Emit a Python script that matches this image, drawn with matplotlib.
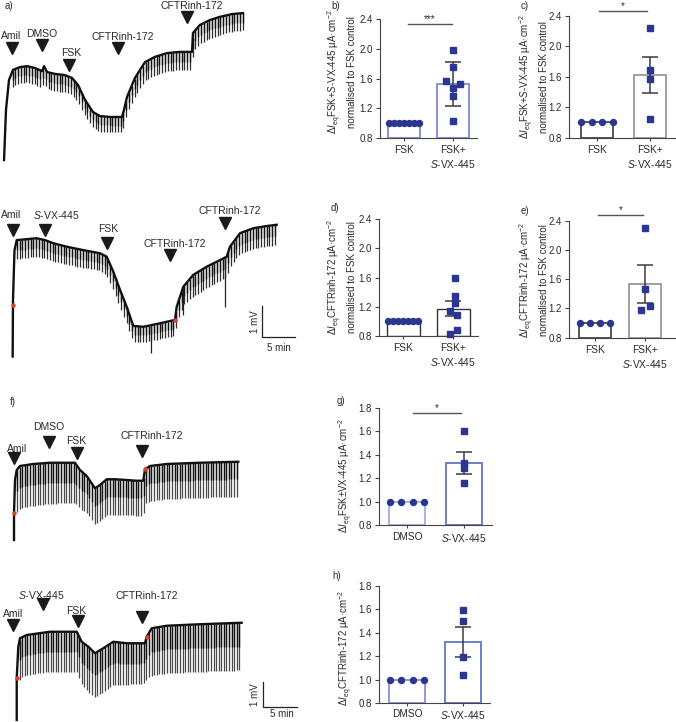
import numpy as np
import matplotlib
matplotlib.use("Agg")
import matplotlib.pyplot as plt

plt.rcParams['font.family'] = ['Liberation Sans', 'DejaVu Sans']
plt.rcParams['mathtext.fontset'] = 'custom'
plt.rcParams['mathtext.rm'] = 'Liberation Sans'
plt.rcParams['mathtext.it'] = 'Liberation Sans:italic'
plt.rcParams['mathtext.bf'] = 'Liberation Sans:bold'

# ---------------- data: traces (time in min, voltage in mV) ----------------
trA_t = [0.61, 0.91, 1.36, 1.97, 3.03, 4.09, 5.30, 6.36, 6.67, 7.12, 8.33, 9.85, 10.91, 11.82, 12.88,
         14.09, 15.15, 16.67, 18.48, 18.79, 19.24, 20.45, 21.97, 23.48, 25.30, 27.27, 29.09, 29.24,
         30.30, 31.82, 33.33, 35.15, 36.82]
trA_v = [0.32, 1.94, 2.90, 3.23, 3.32, 3.35, 3.29, 3.19, 3.35, 3.16, 3.10, 3.06, 2.97, 2.74, 2.26,
         1.87, 1.74, 1.71, 1.71, 1.94, 2.35, 2.97, 3.48, 3.65, 3.77, 3.81, 3.81, 4.42,
         4.68, 4.84, 4.94, 5.03, 5.06]
trA_dt = [1.9, 8, 11, 14, 18.5, 20.5, 26, 29.1, 29.3, 36.8]
trA_dv = [0.5, 0.55, 0.55, 0.5, 0.5, 0.6, 0.58, 0.58, 0.62, 0.55]

trB_t = [1.94, 1.99, 2.22, 2.56, 4.09, 5.62, 6.89, 8.16, 10.21, 12.76, 15.31, 16.34, 17.35, 18.38,
         19.40, 20.41, 21.94, 24.00, 25.53, 26.80, 27.06, 28.07, 29.60, 31.65, 33.69, 34.72, 35.22,
         36.75, 38.79, 40.84, 42.37]
trB_v = [0.27, 2.08, 3.67, 3.99, 4.02, 4.05, 3.99, 3.89, 3.78, 3.67, 3.57, 3.46, 2.98, 2.40,
         1.86, 1.25, 1.22, 1.31, 1.38, 1.44, 1.86, 2.50, 2.88, 3.14, 3.35, 3.46, 3.78,
         4.21, 4.37, 4.44, 4.48]
trB_dt = [2.6, 15, 17, 20.4, 26.8, 30, 35, 42.4]
trB_dv = [0.6, 0.55, 0.6, 0.5, 0.5, 0.7, 0.65, 0.65]
trB_spike_t = [23.2, 28.0, 34.5]
trB_spike_v = [0.38, 1.6, 1.86]
trB_dots_t = [1.94, 26.8]
trB_dots_v = [1.92, 1.44]

trF_t = [2.06, 2.06, 2.21, 2.46, 2.94, 4.90, 7.35, 9.81, 11.03, 11.76, 12.75, 13.97, 14.71, 15.69,
         16.91, 18.63, 20.10, 21.07, 21.32, 22.06, 24.51, 29.41, 35.04]
trF_v = [0.2, 1.29, 2.6, 3.0, 3.16, 3.24, 3.29, 3.29, 3.29, 3.0, 2.76, 2.27, 2.40, 2.63,
         2.63, 2.60, 2.57, 2.57, 3.03, 3.16, 3.24, 3.29, 3.33]
trF_dt = [2.5, 11, 13, 18.7, 21.3, 35]
trF_dv = [1.7, 1.6, 1.45, 1.4, 1.4, 1.4]
trF_dots_t = [2.06, 21.32]
trF_dots_v = [1.29, 3.03]

trH_t = [2.46, 2.46, 2.69, 2.94, 3.93, 7.35, 11.28, 12.01, 12.99, 13.97, 15.19, 16.66, 18.63,
         21.32, 21.57, 22.31, 24.51, 29.41, 35.54]
trH_v = [0.4, 2.07, 3.33, 3.67, 3.80, 3.93, 3.93, 3.53, 3.33, 3.07, 3.27, 3.53, 3.47,
         3.47, 3.73, 4.07, 4.17, 4.23, 4.29]
trH_dt = [2.9, 11.3, 13, 21.3, 22.3, 35.5]
trH_dv = [1.6, 1.6, 1.8, 1.6, 1.9, 1.9]
trH_dots_t = [2.46, 21.57]
trH_dots_v = [2.07, 3.71]

# event markers: (label, arrow t, arrow v, text t, text v)
evA = [("Amil", 1.82, 3.94, 1.67, 4.32), ("DMSO", 6.36, 4.03, 6.36, 4.39),
       ("FSK", 10.45, 3.39, 10.76, 3.77), ("CFTRinh-172", 17.88, 3.94, 18.64, 4.29),
       ("CFTRinh-172", 28.33, 4.94, 29.09, 5.29)]
evB = [("Amil", 1.94, 4.31, 1.68, 4.80), ("$\\mathit{S}$-VX-445", 6.89, 4.31, 8.58, 4.79),
       ("FSK", 16.34, 3.91, 16.54, 4.35), ("CFTRinh-172", 26.03, 3.51, 26.80, 3.87),
       ("CFTRinh-172", 34.46, 4.53, 35.22, 4.93)]
evF = [("Amil", 2.06, 3.47, 2.57, 3.84), ("DMSO", 7.21, 4.13, 7.21, 4.72),
       ("FSK", 11.28, 3.69, 11.18, 4.16), ("CFTRinh-172", 20.84, 3.76, 22.35, 4.36)]
evH = [("Amil", 1.87, 4.2, 1.91, 4.64), ("$\\mathit{S}$-VX-445", 6.37, 5.03, 6.03, 5.40),
       ("FSK", 11.43, 4.37, 11.18, 4.76), ("CFTRinh-172", 20.93, 4.53, 21.62, 5.36)]

# ---------------- data: bar panels ----------------
b_ctrl = [1.0] * 7
b_trt = [1.99, 1.76, 1.57, 1.53, 1.47, 1.36, 1.03]
b_jit = [0, 0, -0.15, 0.15, 0, 0, 0]
b_mean = [1.0, 1.53]
b_err = 0.30

c_ctrl = [1.0] * 4
c_trt = [2.24, 1.69, 1.57, 1.05]
c_jit = [0, 0, 0, 0]
c_mean = [1.0, 1.62]
c_err = 0.24

d_ctrl = [1.0] * 7
d_trt = [1.60, 1.35, 1.25, 1.14, 1.09, 0.88, 0.83]
d_jit = [0.04, 0.04, 0.04, -0.06, 0.08, 0.08, -0.06]
d_mean = [1.0, 1.17]
d_err = 0.105

e_ctrl = [1.0] * 4
e_trt = [2.30, 1.47, 1.23, 1.18]
e_jit = [0.0, 0.0, 0.09, -0.09]
e_mean = [1.0, 1.53]
e_err = 0.26

g_ctrl = [1.0] * 4
g_trt = [1.60, 1.33, 1.29, 1.16]
g_jit = [0, 0, 0, 0]
g_mean = [1.0, 1.33]
g_err = 0.095

h_ctrl = [1.0] * 4
h_trt = [1.59, 1.50, 1.19, 1.04]
h_jit = [0, 0, 0, 0]
h_mean = [1.0, 1.32]
h_err = 0.13

cats_fsk = ["FSK", "FSK+\n$\\mathit{S}$-VX-445"]
cats_dmso = ["DMSO", "$\\mathit{S}$-VX-445"]
ticks_a = [0.8, 1.2, 1.6, 2.0, 2.4]
ticks_g = [0.8, 1.0, 1.2, 1.4, 1.6, 1.8]

lab_fsk = "$\\Delta\\mathit{I}_{\\mathrm{eq}}$FSK+$\\mathit{S}$-VX-445 µA·cm$^{-2}$\nnormalised to FSK control"
lab_cftr = "$\\Delta\\mathit{I}_{\\mathrm{eq}}$CFTRinh-172 µA·cm$^{-2}$\nnormalised to FSK control"
lab_g = "$\\Delta\\mathit{I}_{\\mathrm{eq}}$FSK±VX-445 µA·cm$^{-2}$"
lab_h = "$\\Delta\\mathit{I}_{\\mathrm{eq}}$CFTRinh-172 µA·cm$^{-2}$"

# ---------------- figure ----------------
W, H = 676, 722
fig = plt.figure(figsize=(W / 100, H / 100), dpi=100)
NAVY = '#2b3692'
TXT = '#2a2a2a'


def px_axes(x0, y0, x1, y1):
    return fig.add_axes([x0 / W, 1 - y1 / H, (x1 - x0) / W, (y1 - y0) / H])


def trace(rect, ppm, ppv, t, v, dt, dv, interval, events, dark_frac=None,
          spikes=None, dots=None):
    ax = px_axes(*rect)
    ax.set_xlim(0, (rect[2] - rect[0]) / ppm)
    ax.set_ylim(0, (rect[3] - rect[1]) / ppv)
    ax.axis('off')
    tp = np.arange(dt[0], dt[-1], interval)
    top = np.interp(tp, t, v)
    depth = np.interp(tp, dt, dv)
    if dark_frac is None:
        ax.vlines(tp, top - depth, top, color='#2e2e2e', lw=0.9)
        ax.vlines(tp, top - depth * 0.55, top, color='#111111', lw=1.0)
    else:
        ax.vlines(tp, top - depth, top, color='#4a4a4a', lw=0.9)
        ax.vlines(tp, top - depth * dark_frac, top, color='#111111', lw=1.0)
    if spikes is not None:
        st, sv = spikes
        ax.vlines(st, sv, np.interp(st, t, v), color='#222222', lw=0.9)
    ax.plot(t, v, color='#111111', lw=1.7, solid_joinstyle='round')
    if dots is not None:
        ax.plot(dots[0], dots[1], 'o', ms=2.2, color='#e0402a', zorder=5)
    for lab, at, av, tt, tv in events:
        ax.plot(at, av, marker='v', ms=8, color='#1a1a1a', clip_on=False)
        ax.text(tt, tv, lab, ha='center', va='center', fontsize=7.5, color=TXT)
    return ax


axA = trace((0, 0, 250, 170), 6.6, 31, trA_t, trA_v, trA_dt, trA_dv, 0.42, evA)
axB = trace((0, 195, 300, 365), 6.53, 31.3, trB_t, trB_v, trB_dt, trB_dv, 0.42, evB,
            spikes=(trB_spike_t, trB_spike_v), dots=(trB_dots_t, trB_dots_v))
axF = trace((0, 395, 300, 545), 6.8, 25, trF_t, trF_v, trF_dt, trF_dv, 0.38, evF,
            dark_frac=0.5, dots=(trF_dots_t, trF_dots_v))
axH = trace((0, 590, 300, 730), 6.8, 25, trH_t, trH_v, trH_dt, trH_dv, 0.38, evH,
            dark_frac=0.5, dots=(trH_dots_t, trH_dots_v))

# scale bars (1 mV, 5 min)
for ax, t0, v0, tl, vl, tm, vm in [(axB, 40.17, 0.885, 39.0, 1.385, 42.67, 0.55),
                                   (axH, 38.72, 0.93, 37.5, 1.43, 41.47, 0.62)]:
    ax.plot([t0, t0, t0 + 5], [v0 + 1, v0, v0], color='#222222', lw=0.9)
    ax.text(tl, vl, "1 mV", rotation=90, ha='center', va='center', fontsize=7, color=TXT)
    ax.text(tm, vm, "5 min", ha='center', va='center', fontsize=7, color=TXT)


def bar_panel(rect, xlim, ylim, yticks, ctrl, trt, jit, means, err, width,
              edgecolors, lw, cats, sig=None, xpad=2.5):
    ax = px_axes(*rect)
    x = np.arange(2)
    ax.bar(x, np.array(means) - ylim[0], width, bottom=ylim[0], facecolor='white',
           edgecolor=edgecolors, linewidth=lw, zorder=1)
    ax.errorbar(1, means[1], yerr=err, color='#3c3c3c', capsize=5.5, lw=1.1,
                capthick=1.1, zorder=2)
    ax.plot(np.linspace(-0.3, 0.3, len(ctrl)), ctrl, 'o', ms=4.3, color=NAVY, zorder=3,
            clip_on=False)
    ax.plot(1 + np.array(jit), trt, 's', ms=5, color=NAVY, zorder=3, clip_on=False)
    ax.set_xlim(*xlim)
    ax.set_ylim(*ylim)
    ax.set_yticks(yticks)
    ax.set_yticklabels([f"{v:.1f}" for v in yticks])
    ax.set_xticks(x)
    ax.set_xticklabels(cats, linespacing=1.3)
    for s in ['top', 'right']:
        ax.spines[s].set_visible(False)
    for s in ['left', 'bottom']:
        ax.spines[s].set_color('#444444')
        ax.spines[s].set_linewidth(0.8)
    ax.tick_params(axis='y', labelsize=7, length=3, width=0.8, color='#444444',
                   labelcolor=TXT, pad=2)
    ax.tick_params(axis='x', labelsize=7.3, length=2.5, width=0.8, color='#444444',
                   labelcolor=TXT, pad=xpad)
    ax.patch.set_alpha(0)
    if sig is not None:
        x0, x1, y, stars = sig
        ax.plot([x0, x1], [y, y], color='#555555', lw=1.0, clip_on=False)
        ax.text((x0 + x1) / 2, y, stars, ha='center', va='bottom', fontsize=7, color=TXT)
    return ax


bar_panel((380, 19.3, 477, 138), (-0.49, 1.49), (0.8, 2.4), ticks_a, b_ctrl, b_trt, b_jit,
          b_mean, b_err, 0.67, ['#8d96d2', '#8d96d2'], 1.5, cats_fsk, (0.08, 0.98, 2.337, "***"))
bar_panel((569, 15.7, 676, 137.7), (-0.53, 1.49), (0.8, 2.4), ticks_a, c_ctrl, c_trt, c_jit,
          c_mean, c_err, 0.62, ['#555555', '#a0a0a0'], 1.4, cats_fsk, (0.04, 0.94, 2.465, "*"))
bar_panel((379, 219.3, 478, 335.7), (-0.48, 1.5), (0.8, 2.4), ticks_a, d_ctrl, d_trt, d_jit,
          d_mean, d_err, 0.66, ['#333333', '#333333'], 1.0, cats_fsk)
bar_panel((569, 220.7, 676, 337.7), (-0.52, 1.62), (0.8, 2.4), ticks_a, e_ctrl, e_trt, e_jit,
          e_mean, e_err, 0.65, ['#555555', '#a0a0a0'], 1.4, cats_fsk, (0.06, 0.96, 2.478, "*"))
bar_panel((379, 407.7, 492, 525), (-0.49, 1.49), (0.8, 1.8), ticks_g, g_ctrl, g_trt, g_jit,
          g_mean, g_err, 0.64, ['#aab1dd', '#6f7cc8'], 1.4, cats_dmso, (0.1, 0.95, 1.757, "*"))
bar_panel((379, 585.7, 490, 703.3), (-0.5, 1.48), (0.8, 1.8), ticks_g, h_ctrl, h_trt, h_jit,
          h_mean, h_err, 0.64, ['#8f9ad6', '#6f7cc8'], 1.4, cats_dmso, xpad=1.5)

# y labels
for x, y, s in [(341.5, 72, lab_fsk), (533.5, 77, lab_fsk), (341.5, 277, lab_cftr),
                (533.5, 280, lab_cftr), (346, 476, lab_g), (346, 648, lab_h)]:
    fig.text(x / W, 1 - y / H, s, rotation=90, ha='center', va='center', fontsize=7,
             color=TXT, linespacing=1.35, multialignment='center')

# panel letters
for x, y, s in [(9, 6, "a)"), (336, 6, "b)"), (525, 6, "c)"), (335, 208, "d)"),
                (525, 211, "e)"), (13, 402, "f)"), (341, 401, "g)"), (337, 576, "h)")]:
    fig.text(x / W, 1 - y / H, s, ha='center', va='center', fontsize=7, color=TXT)

fig.savefig("out.png", dpi=100)
